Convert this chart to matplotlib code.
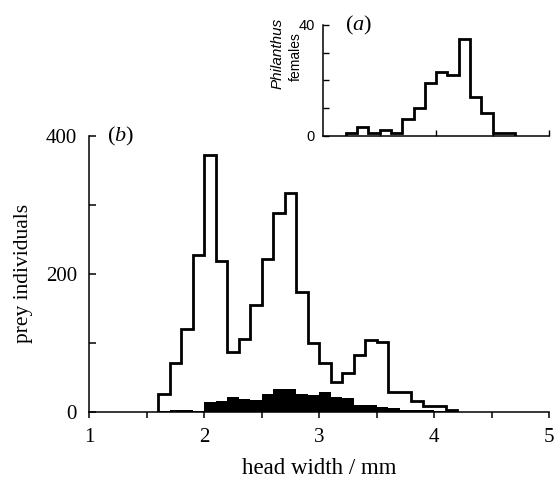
import numpy as np
import matplotlib
matplotlib.use("Agg")
import matplotlib.pyplot as plt
from matplotlib.ticker import MultipleLocator

plt.rcParams['mathtext.fontset'] = 'custom'
plt.rcParams['mathtext.rm'] = 'Liberation Serif'
plt.rcParams['mathtext.it'] = 'Liberation Serif:italic'

# ---- data ----
main_edges_start = 1.6
bin_width = 0.1
prey_all = [25, 71, 120, 227, 372, 218, 86, 106, 155, 221, 288, 317, 174,
            99, 70, 43, 56, 82, 104, 101, 29, 29, 16, 8, 8, 3]
prey_taken = [1, 3, 2, 1, 14, 15, 22, 18, 17, 25, 33, 33, 26,
              24, 29, 22, 20, 10, 10, 7, 5, 3, 2, 2, 1, 1]
inset_edges_start = 3.2
philanthus_females = [1, 3, 1, 2, 1, 6, 10, 19, 23, 22, 35, 14, 8, 1, 1]

main_xticks = [1, 2, 3, 4, 5]
main_yticks = [0, 200, 400]
inset_yticks = [0, 40]

# ---- figure ----
W, H = 554, 480
fig = plt.figure(figsize=(W / 100, H / 100), dpi=100)

def px_axes(x0, x1, ytop, ybot):
    return [x0 / W, 1 - ybot / H, (x1 - x0) / W, (ybot - ytop) / H]

serif = 'Liberation Serif'
sans = 'Liberation Sans'

ax = fig.add_axes(px_axes(89.3, 549.0, 136, 411.7))
edges = main_edges_start + bin_width * np.arange(len(prey_all) + 1)
ax.stairs(prey_taken, edges, fill=True, color='black', baseline=0, linewidth=0)
ax.stairs(prey_all, edges, fill=False, color='black', baseline=0, linewidth=2.0)

ax.set_xlim(1, 5)
ax.set_ylim(0, 400)
for s in ['top', 'right']:
    ax.spines[s].set_visible(False)
for s in ['left', 'bottom']:
    ax.spines[s].set_linewidth(1.1)
ax.set_xticks(main_xticks)
ax.set_xticklabels([str(v) for v in main_xticks], fontfamily=serif, fontsize=15)
ax.xaxis.set_minor_locator(MultipleLocator(0.5))
ax.set_yticks(main_yticks)
ax.set_yticklabels([str(v) for v in main_yticks], fontfamily=serif, fontsize=15)
ax.yaxis.set_minor_locator(MultipleLocator(100))
ax.tick_params(axis='x', which='both', direction='out', length=4, width=1.1, pad=8)
ax.tick_params(axis='y', which='both', direction='in', length=5, width=1.1, pad=9)
ax.set_ylabel('prey individuals', fontfamily=serif, fontsize=15.5, labelpad=9)
ax.set_xlabel('head width / mm', fontfamily=serif, fontsize=16.5, labelpad=8)
ax.text(1.275, 400, '$(b)$', fontsize=16, ha='center', va='center')

# ---- inset ----
axi = fig.add_axes(px_axes(323.3, 549.0, 25, 135.5))
iedges = inset_edges_start + bin_width * np.arange(len(philanthus_females) + 1)
axi.stairs(philanthus_females, iedges, fill=False, color='black', baseline=0, linewidth=2.0)
axi.set_xlim(3, 5)
axi.set_ylim(0, 40)
for s in ['top', 'right']:
    axi.spines[s].set_visible(False)
for s in ['left', 'bottom']:
    axi.spines[s].set_linewidth(1.1)
axi.set_xticks([3.5, 4, 4.5, 5])
axi.set_xticklabels([])
axi.set_yticks(inset_yticks)
axi.set_yticklabels([str(v) for v in inset_yticks], fontfamily=sans, fontsize=10.5)
axi.yaxis.set_minor_locator(MultipleLocator(10))
axi.tick_params(axis='both', which='both', direction='in', length=4, width=1.0, pad=6)
axi.text(3.315, 40, '$(a)$', fontsize=16, ha='center', va='center')

fig.text(277.5 / W, 1 - 53 / H, 'Philanthus', rotation=90, fontfamily=sans,
         fontstyle='italic', fontsize=11, ha='center', va='center')
fig.text(296 / W, 1 - 57 / H, 'females', rotation=90, fontfamily=sans,
         fontsize=10, ha='center', va='center')

fig.savefig('out.png', dpi=100)
